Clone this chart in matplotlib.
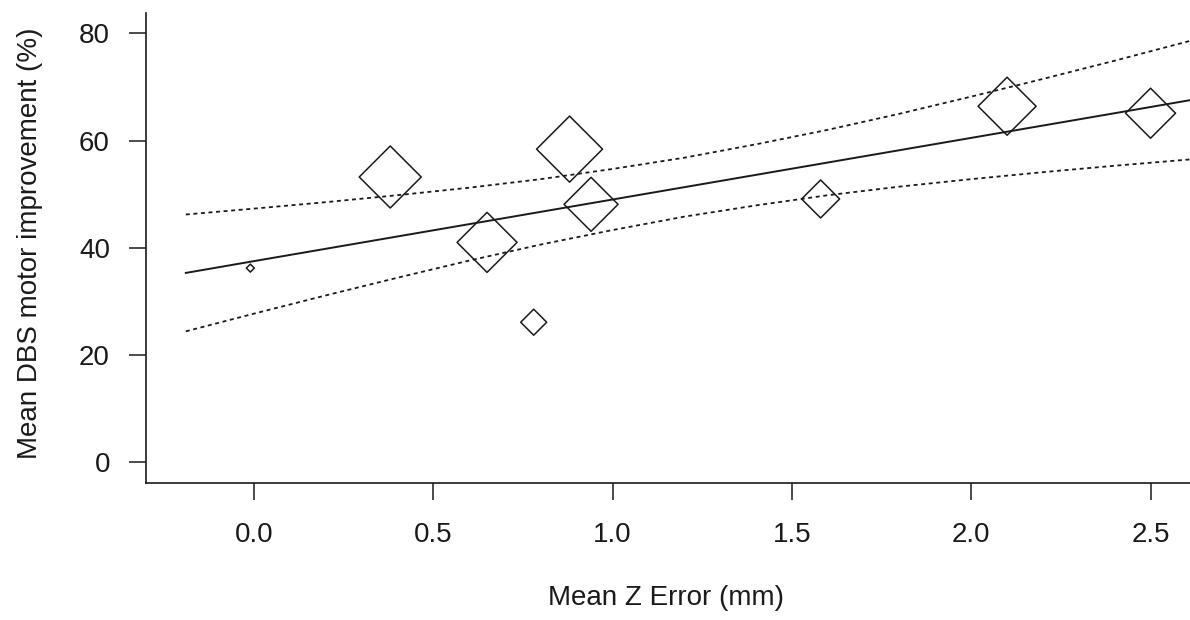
import matplotlib.pyplot as plt
import numpy as np

plt.rcParams['font.family'] = ['Liberation Sans', 'DejaVu Sans']

# study points: mean Z error, mean DBS motor improvement, relative weight
z_error = [-0.01, 0.38, 0.65, 0.78, 0.88, 0.94, 1.58, 2.10, 2.50]
improvement = [36.2, 53.2, 41.0, 26.1, 58.4, 48.1, 49.1, 66.4, 65.1]
weight = [4, 31, 30, 13, 33, 27, 19, 29, 25]

# regression line and confidence band read at these x positions
fit_x = [-0.19, 0.0, 0.2, 0.4, 0.6, 0.8, 1.0, 1.2, 1.4, 1.6, 1.8, 2.0,
         2.2, 2.4, 2.65]
fit_y = [35.3, 37.5, 39.8, 42.1, 44.4, 46.7, 49.0, 51.3, 53.6, 55.9, 58.2,
         60.5, 62.8, 65.1, 68.0]
ci_upper = [46.2, 47.3, 48.5, 49.8, 51.2, 52.8, 54.7, 56.8, 59.3, 62.0,
            65.0, 68.2, 71.5, 74.9, 79.3]
ci_lower = [24.4, 27.7, 31.1, 34.4, 37.6, 40.6, 43.3, 45.8, 47.9, 49.8,
            51.4, 52.8, 54.1, 55.3, 56.7]

xticks = [0.0, 0.5, 1.0, 1.5, 2.0, 2.5]
yticks = [0, 20, 40, 60, 80]

ink = '#1a1a1a'

fig = plt.figure(figsize=(11.9, 6.2), dpi=100)
ax = fig.add_axes([146 / 1190, 1 - 483 / 620, 1 - 146 / 1190, 470 / 620])

ax.plot(fit_x, fit_y, color=ink, lw=1.4)
ax.plot(fit_x, ci_upper, color=ink, lw=1.3, linestyle=(0, (2.2, 2.0)))
ax.plot(fit_x, ci_lower, color=ink, lw=1.3, linestyle=(0, (2.2, 2.0)))

sizes = (np.array(weight) / 0.982) ** 2
ax.scatter(z_error, improvement, s=sizes, marker='D', facecolors='none',
           edgecolors=ink, linewidths=1.1, zorder=3)

ax.set_xlim(-0.301, 2.61)
ax.set_ylim(-3.9, 83.8)
ax.set_xticks(xticks)
ax.set_xticklabels(['{:.1f}'.format(v) for v in xticks])
ax.set_yticks(yticks)
ax.set_yticklabels([str(v) for v in yticks])

for side in ['top', 'right']:
    ax.spines[side].set_visible(False)
for side in ['left', 'bottom']:
    ax.spines[side].set_linewidth(1.2)
    ax.spines[side].set_color(ink)

ax.tick_params(axis='both', direction='out', length=12, width=1.1,
               colors=ink, labelsize=20)
ax.tick_params(axis='y', pad=14)
ax.tick_params(axis='x', pad=16)

fig.text(666 / 1190, 1 - 598 / 620, 'Mean Z Error (mm)', ha='center',
         va='center', fontsize=20, color=ink)
fig.text(30 / 1190, 1 - 243 / 620, 'Mean DBS motor improvement (%)',
         ha='center', va='center', rotation=90, fontsize=20, color=ink)

plt.savefig('out.png', dpi=100)
